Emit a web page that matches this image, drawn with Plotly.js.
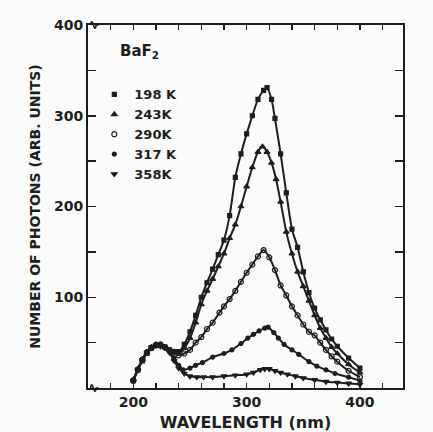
<!DOCTYPE html>
<html>
<head>
<meta charset="utf-8">
<script src="https://cdn.plot.ly/plotly-3.0.1.min.js"></script>
<style>html,body{margin:0;padding:0;background:#fbfbfb;}#chart{width:433px;height:432px;}</style>
</head>
<body>
<div id="chart"></div>
<script>
// Wavelength (nm) and photon counts (arb. units)
const names = ["198 K", "243K", "290K", "317 K", "358K"];

const wl198 = [200,204,208,212,216,220,224,228,232,236,240,245,250,255,260,265,270,275,280,285,290,295,300,305,310,315,318,322,325,330,335,340,345,350,355,360,365,370,375,380,390,400];
const v198  = [8,20,30,38,44,47,47,45,42,40,40,48,62,80,100,116,131,147,163,190,232,258,280,300,318,328,331,318,297,258,215,175,155,128,105,88,75,64,54,46,33,22];

const wl243 = [200,204,208,212,216,220,224,228,232,236,240,245,250,255,260,265,270,275,280,285,290,295,300,305,310,314,318,322,326,330,335,340,345,350,355,360,365,370,375,380,390,400];
const v243  = [9,21,31,39,45,48,47,45,42,40,39,44,55,72,92,107,120,134,148,165,180,200,222,243,260,266,260,248,230,205,172,148,128,112,96,80,66,55,45,38,26,17];

const wl290 = [200,204,208,212,216,220,224,228,232,235,240,245,250,255,260,265,270,276,280,285,290,295,300,305,310,315,320,325,330,335,340,345,350,355,360,365,370,375,380,390,400];
const v290  = [8,20,31,39,44,47,48,45,41,39,36,38,42,50,56,65,72,83,90,98,107,117,127,136,145,152,144,130,113,102,90,80,70,62,58,50,42,35,29,19,12];

const wl317 = [200,204,208,212,216,220,224,228,232,236,240,244,250,255,261,270,280,287,295,301,306,311,316,319,324,328,333,340,346,355,362,370,378,390,400];
const v317  = [9,21,32,40,45,48,47,44,40,33,25,20,22,25,28,34,38,42,49,55,59,63,66,67,61,55,48,42,37,29,24,20,16,12,8];

const wl358 = [200,204,208,212,216,220,224,228,232,236,240,245,250,256,262,270,280,290,300,306,312,316,320,325,330,336,343,350,360,370,380,390,400];
const v358  = [8,20,31,39,45,47,46,44,39,30,22,16,13,12,12,12,13,14,15,17,20,21,21,19,17,15,13,11,9,7,6,5,4];

const xs = [wl198, wl243, wl290, wl317, wl358];
const ys = [v198, v243, v290, v317, v358];
const symbols = ["square", "triangle-up", "circle-open", "circle", "triangle-down"];
const msizes = [4, 5, 5, 4, 5];

const ink = "#1e1e1e";
const traces = [];
for (let i = 0; i < names.length; i++) {
  traces.push({
    x: xs[i], y: ys[i], type: "scatter", mode: "lines",
    line: {color: ink, width: 2, shape: "spline", smoothing: 0.6},
    showlegend: false, hoverinfo: "skip"
  });
}
for (let i = 0; i < names.length; i++) {
  traces.push({
    x: xs[i], y: ys[i], type: "scatter", mode: "markers", name: names[i],
    marker: {color: ink, size: msizes[i], symbol: symbols[i], line: {color: ink, width: 1.2}},
    showlegend: true
  });
}

const xTickVals = [160,180,200,220,240,260,280,300,320,340,360,380,400,420];
const xTickText = xTickVals.map(v => (v % 100 === 0 ? String(v) : ""));
const yTickVals = [50,100,150,200,250,300,350,400];
const yTickText = yTickVals.map(v => (v % 100 === 0 ? String(v) : ""));

const font = "DejaVu Sans, Liberation Sans, sans-serif";

const layout = {
  width: 433, height: 432,
  margin: {l: 88, r: 30, t: 25, b: 44},
  paper_bgcolor: "#fbfbfb", plot_bgcolor: "#fbfbfb",
  font: {family: font, color: ink, size: 14},
  showlegend: true,
  legend: {
    x: 0.02, y: 0.85, xanchor: "left", yanchor: "top",
    bgcolor: "rgba(0,0,0,0)", borderwidth: 0,
    font: {family: font, size: 13, color: ink, weight: "bold"},
    itemwidth: 30, tracegroupgap: 0
  },
  xaxis: {
    range: [160, 438], tickmode: "array", tickvals: xTickVals, ticktext: xTickText,
    ticks: "inside", ticklen: 5, tickwidth: 1.5, tickcolor: ink,
    showline: true, linecolor: ink, linewidth: 2, mirror: "ticks",
    showgrid: false, zeroline: false,
    tickfont: {family: font, size: 14, color: ink, weight: "bold"},
    title: {text: "WAVELENGTH (nm)", font: {family: font, size: 16, color: ink, weight: "bold"}, standoff: 8}
  },
  yaxis: {
    range: [0, 400], tickmode: "array", tickvals: yTickVals, ticktext: yTickText,
    ticks: "inside", ticklen: 8, tickwidth: 1.5, tickcolor: ink,
    showline: true, linecolor: ink, linewidth: 2, mirror: "ticks",
    showgrid: false, zeroline: false,
    tickfont: {family: font, size: 14, color: ink, weight: "bold"},
    title: {text: "NUMBER OF PHOTONS (ARB. UNITS)", font: {family: font, size: 14, color: ink, weight: "bold"}, standoff: 10}
  },
  annotations: [{
    text: "BaF<sub>2</sub>", xref: "paper", yref: "paper", x: 0.095, y: 0.96,
    xanchor: "left", yanchor: "top", showarrow: false,
    font: {family: font, size: 15, color: ink, weight: "bold"}
  }],
  shapes: [
    {type: "path", xref: "paper", yref: "paper", layer: "above",
     path: "M 0.008 1 C 0.014 1.03 0.02 0.97 0.026 1 L 0.034 1",
     fillcolor: "rgba(0,0,0,0)", line: {color: ink, width: 1.6}},
    {type: "path", xref: "paper", yref: "paper", layer: "above",
     path: "M 0.008 0 C 0.014 0.03 0.02 -0.03 0.026 0 L 0.034 0",
     fillcolor: "rgba(0,0,0,0)", line: {color: ink, width: 1.6}}
  ]
};

Plotly.newPlot("chart", traces, layout, {staticPlot: true, displayModeBar: false});
</script>
</body>
</html>
